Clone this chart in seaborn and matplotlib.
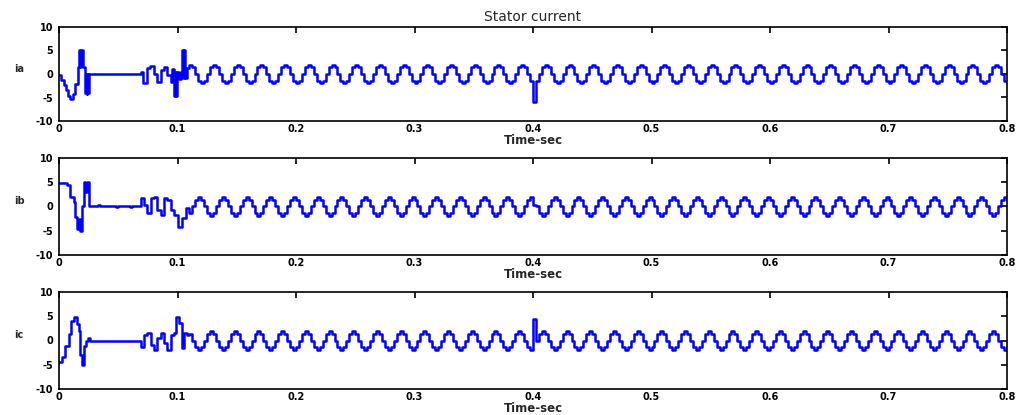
import numpy as np
import pandas as pd
import matplotlib
matplotlib.use("Agg")
import matplotlib.pyplot as plt
import seaborn as sns

# ---------------- data ----------------
x_ticks = [0, 0.1, 0.2, 0.3, 0.4, 0.5, 0.6, 0.7, 0.8]
x_tick_labels = ["0", "0.1", "0.2", "0.3", "0.4", "0.5", "0.6", "0.7", "0.8"]
y_ticks = [-10, -5, 0, 5, 10]
y_tick_labels = ["-10", "-5", "0", "5", "10"]
phase_labels = ["ia", "ib", "ic"]
title_text = "Stator current"
x_label = "Time-sec"

# start-up transient (time in s, current in A), held between samples
ia_tr_t = [0.0, 0.002, 0.004, 0.006, 0.008, 0.0095, 0.0115, 0.0135, 0.0158, 0.0172,
           0.0178, 0.0184, 0.0200, 0.0222, 0.0228, 0.0234, 0.0240, 0.0246, 0.0252, 0.0689,
           0.0710, 0.0743, 0.0771, 0.0802, 0.0830, 0.0858, 0.0887, 0.0915, 0.0943, 0.0957,
           0.0972, 0.0980, 0.0988, 0.0996, 0.1010, 0.1030, 0.1042, 0.1050, 0.1056, 0.1064,
           0.1084]
ia_tr_v = [-0.3, -1.2, -2.3, -3.5, -4.6, -5.3, -4.2, -2.2, 1.5, 5.0,
           1.5, 5.0, 1.5, -4.0, 0.0, -4.2, 0.0, -4.0, 0.0, 0.5,
           -2.0, 1.2, 1.8, 0.0, -1.6, 0.8, 1.5, -0.2, -1.6, 1.0,
           -4.6, 0.5, -4.6, 0.5, -1.0, 0.5, 5.0, -0.9, 5.0, -0.9,
           1.2]

ib_tr_t = [0.0, 0.0070, 0.0096, 0.0124, 0.0138, 0.0152, 0.0166, 0.0180, 0.0194, 0.0209,
           0.0223, 0.0237, 0.0251, 0.0330, 0.0350, 0.0480, 0.0500, 0.0600, 0.0620, 0.0689,
           0.0717, 0.0745, 0.0774, 0.0802, 0.0830, 0.0858, 0.0887, 0.0915, 0.0943, 0.0972,
           0.1000, 0.1042, 0.1070, 0.1099]
ib_tr_v = [4.8, 4.4, 2.0, 1.0, -2.2, -4.7, -2.5, -5.0, 0.0, 5.0,
           3.0, 5.0, 0.0, 0.3, 0.0, -0.2, 0.0, -0.2, 0.0, 1.7,
           0.3, -1.3, 1.7, 2.0, -0.7, -1.7, 1.7, 1.4, -0.7, -1.7,
           -4.3, -2.3, -0.3, -1.3]

ic_tr_t = [0.0, 0.0025, 0.0053, 0.0082, 0.0101, 0.0124, 0.0152, 0.0166, 0.0180, 0.0194,
           0.0214, 0.0228, 0.0242, 0.0259, 0.0689, 0.0717, 0.0745, 0.0774, 0.0802, 0.0830,
           0.0858, 0.0887, 0.0915, 0.0943, 0.0972, 0.0991, 0.1014, 0.1042, 0.1056, 0.1084]
ic_tr_v = [-4.5, -3.3, -1.2, 1.3, 4.1, 4.8, 3.4, 2.0, -3.0, -5.0,
           -1.2, 0.0, 0.5, 0.0, -1.3, 1.2, 1.6, -0.9, -2.0, 0.5,
           1.6, -0.6, -2.0, 1.2, 1.6, 4.8, 3.7, -1.6, 1.6, 1.2]

# steady-state samples, one every 2.5 ms starting at 0.11 s
steady_start = 0.11
steady_dt = 0.0025

ia_steady = [
    2, 1.4, 0, -1.4, -2, -1.4, 0, 1.4,
    2, 1.4, 0, -1.4, -2, -1.4, 0, 1.4,
    2, 1.4, 0, -1.4, -2, -1.4, 0, 1.4,
    2, 1.4, 0, -1.4, -2, -1.4, 0, 1.4,
    2, 1.4, 0, -1.4, -2, -1.4, 0, 1.4,
    2, 1.4, 0, -1.4, -2, -1.4, 0, 1.4,
    2, 1.4, 0, -1.4, -2, -1.4, 0, 1.4,
    2, 1.4, 0, -1.4, -2, -1.4, 0, 1.4,
    2, 1.4, 0, -1.4, -2, -1.4, 0, 1.4,
    2, 1.4, 0, -1.4, -2, -1.4, 0, 1.4,
    2, 1.4, 0, -1.4, -2, -1.4, 0, 1.4,
    2, 1.4, 0, -1.4, -2, -1.4, 0, 1.4,
    2, 1.4, 0, -1.4, -2, -1.4, 0, 1.4,
    2, 1.4, 0, -1.4, -2, -1.4, 0, 1.4,
    2, 1.4, 0, -1.4, -6, -1.4, 0, 1.4,
    2, 1.4, 0, -1.4, -2, -1.4, 0, 1.4,
    2, 1.4, 0, -1.4, -2, -1.4, 0, 1.4,
    2, 1.4, 0, -1.4, -2, -1.4, 0, 1.4,
    2, 1.4, 0, -1.4, -2, -1.4, 0, 1.4,
    2, 1.4, 0, -1.4, -2, -1.4, 0, 1.4,
    2, 1.4, 0, -1.4, -2, -1.4, 0, 1.4,
    2, 1.4, 0, -1.4, -2, -1.4, 0, 1.4,
    2, 1.4, 0, -1.4, -2, -1.4, 0, 1.4,
    2, 1.4, 0, -1.4, -2, -1.4, 0, 1.4,
    2, 1.4, 0, -1.4, -2, -1.4, 0, 1.4,
    2, 1.4, 0, -1.4, -2, -1.4, 0, 1.4,
    2, 1.4, 0, -1.4, -2, -1.4, 0, 1.4,
    2, 1.4, 0, -1.4, -2, -1.4, 0, 1.4,
    2, 1.4, 0, -1.4, -2, -1.4, 0, 1.4,
    2, 1.4, 0, -1.4, -2, -1.4, 0, 1.4,
    2, 1.4, 0, -1.4, -2, -1.4, 0, 1.4,
    2, 1.4, 0, -1.4, -2, -1.4, 0, 1.4,
    2, 1.4, 0, -1.4, -2, -1.4, 0, 1.4,
    2, 1.4, 0, -1.4, -2, -1.4, 0, 1.4,
    2, 1.4, 0, -1.4, -2,
]

ib_steady = [
    -1.4, 0, 1.4, 2, 1.4, 0, -1.4, -2,
    -1.4, 0, 1.4, 2, 1.4, 0, -1.4, -2,
    -1.4, 0, 1.4, 2, 1.4, 0, -1.4, -2,
    -1.4, 0, 1.4, 2, 1.4, 0, -1.4, -2,
    -1.4, 0, 1.4, 2, 1.4, 0, -1.4, -2,
    -1.4, 0, 1.4, 2, 1.4, 0, -1.4, -2,
    -1.4, 0, 1.4, 2, 1.4, 0, -1.4, -2,
    -1.4, 0, 1.4, 2, 1.4, 0, -1.4, -2,
    -1.4, 0, 1.4, 2, 1.4, 0, -1.4, -2,
    -1.4, 0, 1.4, 2, 1.4, 0, -1.4, -2,
    -1.4, 0, 1.4, 2, 1.4, 0, -1.4, -2,
    -1.4, 0, 1.4, 2, 1.4, 0, -1.4, -2,
    -1.4, 0, 1.4, 2, 1.4, 0, -1.4, -2,
    -1.4, 0, 1.4, 2, 1.4, 0, -1.4, -2,
    -1.4, 0, 1.4, 2, 0.4, 0, -1.4, -2,
    -1.4, 0, 1.4, 2, 1.4, 0, -1.4, -2,
    -1.4, 0, 1.4, 2, 1.4, 0, -1.4, -2,
    -1.4, 0, 1.4, 2, 1.4, 0, -1.4, -2,
    -1.4, 0, 1.4, 2, 1.4, 0, -1.4, -2,
    -1.4, 0, 1.4, 2, 1.4, 0, -1.4, -2,
    -1.4, 0, 1.4, 2, 1.4, 0, -1.4, -2,
    -1.4, 0, 1.4, 2, 1.4, 0, -1.4, -2,
    -1.4, 0, 1.4, 2, 1.4, 0, -1.4, -2,
    -1.4, 0, 1.4, 2, 1.4, 0, -1.4, -2,
    -1.4, 0, 1.4, 2, 1.4, 0, -1.4, -2,
    -1.4, 0, 1.4, 2, 1.4, 0, -1.4, -2,
    -1.4, 0, 1.4, 2, 1.4, 0, -1.4, -2,
    -1.4, 0, 1.4, 2, 1.4, 0, -1.4, -2,
    -1.4, 0, 1.4, 2, 1.4, 0, -1.4, -2,
    -1.4, 0, 1.4, 2, 1.4, 0, -1.4, -2,
    -1.4, 0, 1.4, 2, 1.4, 0, -1.4, -2,
    -1.4, 0, 1.4, 2, 1.4, 0, -1.4, -2,
    -1.4, 0, 1.4, 2, 1.4, 0, -1.4, -2,
    -1.4, 0, 1.4, 2, 1.4, 0, -1.4, -2,
    -1.4, 0, 1.4, 2, 1.4,
]

ic_steady = [
    1.4, 0, -1.4, -2, -1.4, 0, 1.4, 2,
    1.4, 0, -1.4, -2, -1.4, 0, 1.4, 2,
    1.4, 0, -1.4, -2, -1.4, 0, 1.4, 2,
    1.4, 0, -1.4, -2, -1.4, 0, 1.4, 2,
    1.4, 0, -1.4, -2, -1.4, 0, 1.4, 2,
    1.4, 0, -1.4, -2, -1.4, 0, 1.4, 2,
    1.4, 0, -1.4, -2, -1.4, 0, 1.4, 2,
    1.4, 0, -1.4, -2, -1.4, 0, 1.4, 2,
    1.4, 0, -1.4, -2, -1.4, 0, 1.4, 2,
    1.4, 0, -1.4, -2, -1.4, 0, 1.4, 2,
    1.4, 0, -1.4, -2, -1.4, 0, 1.4, 2,
    1.4, 0, -1.4, -2, -1.4, 0, 1.4, 2,
    1.4, 0, -1.4, -2, -1.4, 0, 1.4, 2,
    1.4, 0, -1.4, -2, -1.4, 0, 1.4, 2,
    1.4, 0, -1.4, -2, 4.5, 0, 1.4, 2,
    1.4, 0, -1.4, -2, -1.4, 0, 1.4, 2,
    1.4, 0, -1.4, -2, -1.4, 0, 1.4, 2,
    1.4, 0, -1.4, -2, -1.4, 0, 1.4, 2,
    1.4, 0, -1.4, -2, -1.4, 0, 1.4, 2,
    1.4, 0, -1.4, -2, -1.4, 0, 1.4, 2,
    1.4, 0, -1.4, -2, -1.4, 0, 1.4, 2,
    1.4, 0, -1.4, -2, -1.4, 0, 1.4, 2,
    1.4, 0, -1.4, -2, -1.4, 0, 1.4, 2,
    1.4, 0, -1.4, -2, -1.4, 0, 1.4, 2,
    1.4, 0, -1.4, -2, -1.4, 0, 1.4, 2,
    1.4, 0, -1.4, -2, -1.4, 0, 1.4, 2,
    1.4, 0, -1.4, -2, -1.4, 0, 1.4, 2,
    1.4, 0, -1.4, -2, -1.4, 0, 1.4, 2,
    1.4, 0, -1.4, -2, -1.4, 0, 1.4, 2,
    1.4, 0, -1.4, -2, -1.4, 0, 1.4, 2,
    1.4, 0, -1.4, -2, -1.4, 0, 1.4, 2,
    1.4, 0, -1.4, -2, -1.4, 0, 1.4, 2,
    1.4, 0, -1.4, -2, -1.4, 0, 1.4, 2,
    1.4, 0, -1.4, -2, -1.4, 0, 1.4, 2,
    1.4, 0, -1.4, -2, -1.4,
]


def build_frame(tr_t, tr_v, steady):
    t_steady = steady_start + steady_dt * np.arange(len(steady))
    t = np.concatenate([np.asarray(tr_t, float), t_steady])
    v = np.concatenate([np.asarray(tr_v, float), np.asarray(steady, float)])
    return pd.DataFrame({"t": t, "v": v})


frames = [
    build_frame(ia_tr_t, ia_tr_v, ia_steady),
    build_frame(ib_tr_t, ib_tr_v, ib_steady),
    build_frame(ic_tr_t, ic_tr_v, ic_steady),
]

# ---------------- style ----------------
sns.set_theme(style="white")
plt.rcParams["font.family"] = ["DejaVu Sans"]

W, H = 1021, 415
fig = plt.figure(figsize=(W / 100, H / 100), dpi=100)
fig.patch.set_facecolor("white")

# axes boxes in pixels (left, top, right, bottom)
boxes = [(59, 27, 1007, 121), (59, 158, 1007, 255), (59, 292, 1007, 389)]

for i, (box, df, lab) in enumerate(zip(boxes, frames, phase_labels)):
    l, t, r, b = box
    ax = fig.add_axes([l / W, 1 - b / H, (r - l) / W, (b - t) / H])
    ax.set_facecolor("white")
    sns.lineplot(data=df, x="t", y="v", ax=ax, color="#0000ff", linewidth=1.8,
                 drawstyle="steps-post", estimator=None, sort=False, legend=False)
    ax.set_xlim(0, 0.8)
    ax.set_ylim(-10, 10)
    ax.set_xticks(x_ticks)
    ax.set_xticklabels(x_tick_labels)
    ax.set_yticks(y_ticks)
    ax.set_yticklabels(y_tick_labels)
    ax.tick_params(direction="in", top=True, right=True, length=4, width=1.2,
                   colors="black", labelsize=7)
    ax.tick_params(axis="x", pad=2)
    ax.tick_params(axis="y", pad=4)
    for lbl in ax.get_xticklabels() + ax.get_yticklabels():
        lbl.set_fontweight("bold")
    for s in ax.spines.values():
        s.set_visible(True)
        s.set_color("black")
        s.set_linewidth(1.2)
    ax.set_xlabel(x_label, fontsize=8.5, fontweight="bold", labelpad=0.5)
    ax.set_ylabel(lab, fontsize=7, fontweight="bold", rotation=0)
    ax.yaxis.set_label_coords(-0.042, 0.5)
    ax.grid(False)
    if i == 0:
        ax.set_title(title_text, fontsize=10, pad=4)

fig.savefig("out.png", dpi=100, facecolor="white")
